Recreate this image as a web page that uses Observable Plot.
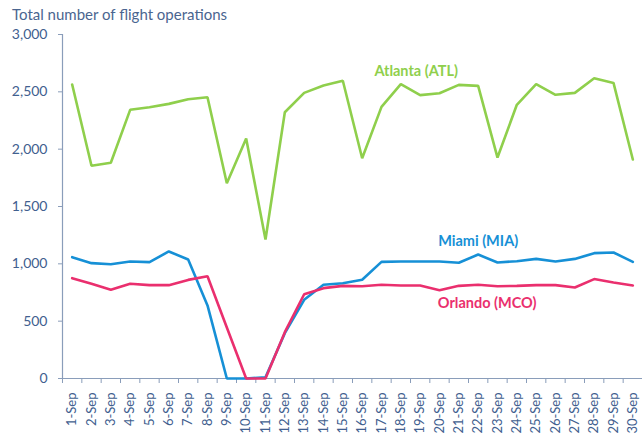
<!DOCTYPE html>
<html>
<head>
<meta charset="utf-8">
<script src="https://cdn.jsdelivr.net/npm/d3@7"></script>
<script src="https://cdn.jsdelivr.net/npm/@observablehq/plot@0.6"></script>
<style>
  html, body { margin: 0; padding: 0; background: #fff; }
  body { width: 642px; height: 434px; overflow: hidden; font-family: Lato, "Open Sans", sans-serif; }
  #title { height: 26px; box-sizing: border-box; padding: 5px 0 0 12px; font-size: 15px; line-height: 18px; color: #4a6590; }
  svg { display: block; }
</style>
</head>
<body>
<div id="title">Total number of flight operations</div>
<div id="chart"></div>
<script>
const dates = ["1-Sep","2-Sep","3-Sep","4-Sep","5-Sep","6-Sep","7-Sep","8-Sep","9-Sep","10-Sep",
  "11-Sep","12-Sep","13-Sep","14-Sep","15-Sep","16-Sep","17-Sep","18-Sep","19-Sep","20-Sep",
  "21-Sep","22-Sep","23-Sep","24-Sep","25-Sep","26-Sep","27-Sep","28-Sep","29-Sep","30-Sep"];
const atlanta = [2564,1855,1881,2343,2366,2395,2436,2453,1703,2093,
  1212,2322,2491,2555,2597,1921,2369,2567,2471,2488,
  2561,2552,1927,2387,2567,2474,2491,2619,2578,1910];
const miami = [1058,1006,997,1020,1015,1108,1038,637,0,0,
  10,395,686,817,830,861,1017,1020,1020,1020,
  1009,1081,1012,1023,1043,1020,1043,1093,1099,1017];
const orlando = [875,826,773,826,814,814,860,892,445,0,
  0,404,735,788,808,805,817,811,811,770,
  808,817,805,808,814,814,794,867,837,811];
const yTicks = [0,500,1000,1500,2000,2500,3000];
const seriesNames = ["Atlanta (ATL)","Miami (MIA)","Orlando (MCO)"];
const seriesColors = ["#8fcf4c","#1690d6","#ea2f6e"];

const rows = [];
[atlanta, miami, orlando].forEach((vals, k) => {
  vals.forEach((v, i) => rows.push({series: seriesNames[k], date: dates[i], value: v}));
});

const width = 642, height = 408, mL = 62, mR = 0;
const half = (width - mL - mR) / dates.length / 2;
const axisColor = "#8a9dba";
const labelColor = "#41608f";

const labelSpecs = [
  {series: seriesNames[0], date: "19-Sep", dx: -4, dy: -24},
  {series: seriesNames[1], date: "22-Sep", dx: 0, dy: -13},
  {series: seriesNames[2], date: "22-Sep", dx: 9, dy: 19}
];
const labelMarks = labelSpecs.map(l => {
  const row = rows.find(r => r.series === l.series && r.date === l.date);
  return Plot.text([row], {x: "date", y: "value", text: "series", fill: "series",
    dx: l.dx, dy: l.dy, fontSize: 14.5, fontWeight: "bold", lineAnchor: "middle"});
});

const chart = Plot.plot({
  width, height,
  marginLeft: mL, marginRight: mR, marginTop: 8, marginBottom: 56,
  style: {fontFamily: "Lato, 'Open Sans', sans-serif", background: "#fff"},
  x: {type: "point", domain: dates, padding: 0.5, round: false},
  y: {domain: [0, 3000]},
  color: {domain: seriesNames, range: seriesColors},
  marks: [
    Plot.axisY({ticks: yTicks, tickFormat: d3.format(","), tickSize: 4, tickPadding: 11, fontSize: 14, color: labelColor, stroke: axisColor, label: null}),
    Plot.axisX({tickSize: 5, tickFormat: () => "", dx: -half, stroke: axisColor, label: null}),
    Plot.axisX({tickSize: 0, tickPadding: 14, tickRotate: -90, fontSize: 13, color: labelColor, label: null}),
    Plot.ruleY([0], {stroke: axisColor, strokeWidth: 1.2}),
    Plot.ruleX([dates[0]], {dx: -half, stroke: axisColor, strokeWidth: 1.2}),
    Plot.line(rows, {x: "date", y: "value", z: "series", stroke: "series", strokeWidth: 2.6, strokeLinejoin: "miter"}),
    ...labelMarks
  ]
});
document.getElementById("chart").appendChild(chart);
</script>
</body>
</html>
